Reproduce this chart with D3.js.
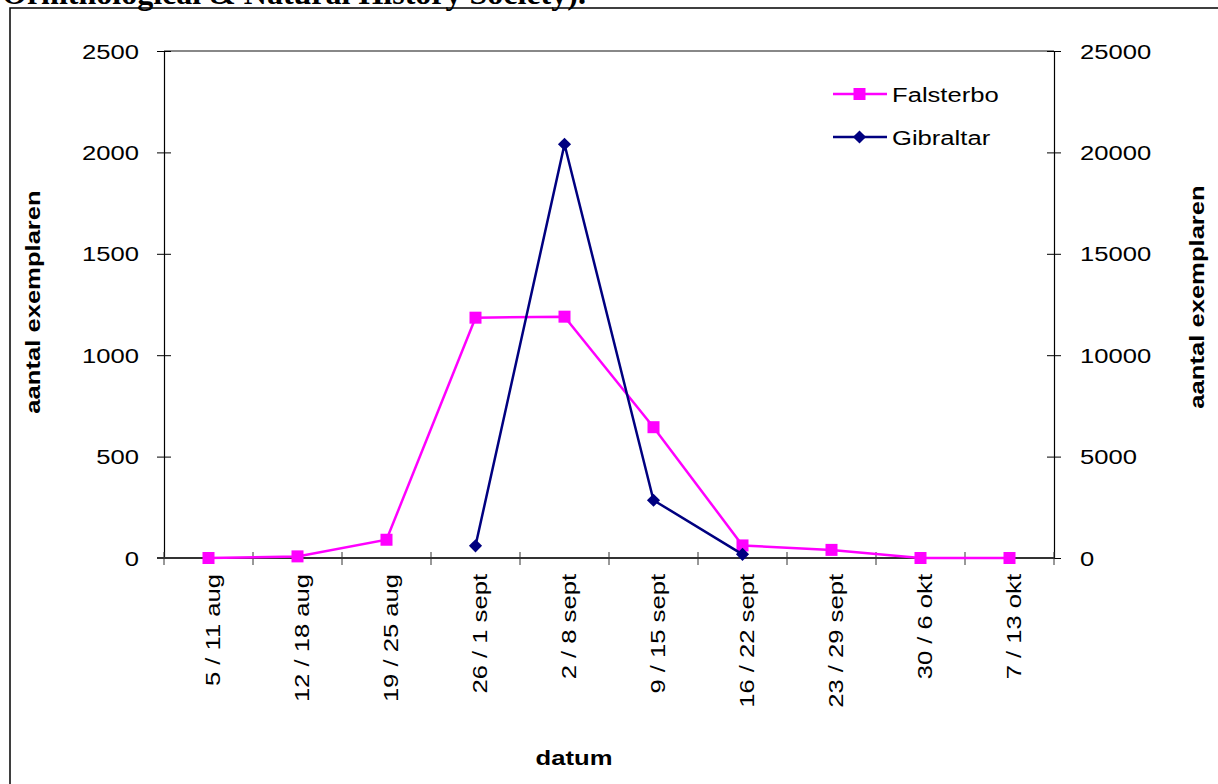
<!DOCTYPE html>
<html>
<head>
<meta charset="utf-8">
<script src="https://cdn.jsdelivr.net/npm/d3@7"></script>
<style>
body { margin: 0; background: #fff; overflow: hidden; }
text { font-family: "Liberation Sans", Arial, sans-serif; }
</style>
</head>
<body>
<svg id="chart" width="1218" height="784"></svg>
<script>
var categories = ["5 / 11 aug", "12 / 18 aug", "19 / 25 aug", "26 / 1 sept", "2 / 8 sept",
                  "9 / 15 sept", "16 / 22 sept", "23 / 29 sept", "30 / 6 okt", "7 / 13 okt"];
var falsterbo = [0, 8, 90, 1185, 1190, 645, 62, 40, 0, 0];
// gibraltar only counted for four weeks (right axis)
var gibraltar = [null, null, null, 600, 20400, 2850, 180, null, null, null];
var leftTicks = [0, 500, 1000, 1500, 2000, 2500];
var rightTicks = [0, 5000, 10000, 15000, 20000, 25000];

var svg = d3.select("#chart");
var SX = 1.22; // the original text is a bit wider than plain arial

// text helper: translate, rotate, stretch along the text direction
function label(px, py, rot, txt, anchor, size, bold) {
    return svg.append("text")
        .attr("transform", "translate(" + px + "," + py + ") rotate(" + rot + ") scale(" + SX + ",1)")
        .attr("text-anchor", anchor)
        .style("font-size", size + "px")
        .style("font-weight", bold ? "bold" : "normal")
        .text(txt);
}

// caption text cut by the top of the page
svg.append("text")
    .attr("x", 2).attr("y", 4)
    .style("font-family", "'Liberation Serif', 'Times New Roman', serif")
    .style("font-weight", "bold").style("font-size", "32px")
    .text("Ornithological & Natural History Society).");

// chart frame
svg.append("rect")
    .attr("x", 10).attr("y", 8).attr("width", 1230).attr("height", 800)
    .attr("fill", "none").attr("stroke", "#000").attr("stroke-width", 1.5);

var pLeft = 164, pRight = 1054, pTop = 51, pBottom = 558;

var x = d3.scaleBand().domain(categories).range([pLeft, pRight]);
var yL = d3.scaleLinear().domain([0, 2500]).range([pBottom, pTop]);
var yR = d3.scaleLinear().domain([0, 25000]).range([pBottom, pTop]);

// plot area top border
svg.append("line")
    .attr("x1", pLeft).attr("x2", pRight).attr("y1", pTop).attr("y2", pTop)
    .attr("stroke", "#888").attr("stroke-width", 2);

// left axis (ticks cross the line)
var gL = svg.append("g").attr("transform", "translate(" + pLeft + ",0)")
    .call(d3.axisLeft(yL).tickValues(leftTicks).tickSize(0).tickFormat(""));
gL.select(".domain").attr("stroke", "#000").attr("stroke-width", 1.2);
gL.selectAll(".tick").append("line")
    .attr("x1", -7).attr("x2", 7).attr("stroke", "#000");
leftTicks.forEach(function(t) {
    label(139, yL(t) + 7.5, 0, t, "end", 21, false);
});

// right axis
var gR = svg.append("g").attr("transform", "translate(" + pRight + ",0)")
    .call(d3.axisRight(yR).tickValues(rightTicks).tickSize(0).tickFormat(""));
gR.select(".domain").attr("stroke", "#000").attr("stroke-width", 1.2);
gR.selectAll(".tick").append("line")
    .attr("x1", -7).attr("x2", 7).attr("stroke", "#000");
rightTicks.forEach(function(t) {
    label(1080, yR(t) + 7.5, 0, t, "start", 21, false);
});

// x axis
svg.append("line")
    .attr("x1", pLeft - 7).attr("x2", pRight).attr("y1", pBottom).attr("y2", pBottom)
    .attr("stroke", "#333").attr("stroke-width", 2);
var bounds = categories.map(function(d) { return x(d); }).concat([pRight]);
svg.selectAll(".xtick").data(bounds).enter().append("line")
    .attr("class", "xtick")
    .attr("x1", function(d) { return d; }).attr("x2", function(d) { return d; })
    .attr("y1", pBottom - 6).attr("y2", pBottom + 7)
    .attr("stroke", "#333");

categories.forEach(function(c) {
    label(x(c) + x.bandwidth() / 2 + 11, pBottom + 16, -90, c, "end", 21, false);
});

// axis titles
label(40, 302, -90, "aantal exemplaren", "middle", 21, true);
label(1204, 297, -90, "aantal exemplaren", "middle", 21, true);
label(574, 765, 0, "datum", "middle", 21, true);

function cx(i) { return x(categories[i]) + x.bandwidth() / 2; }

// Falsterbo (left axis)
var fData = falsterbo.map(function(v, i) { return { i: i, v: v }; });
svg.append("path")
    .datum(fData)
    .attr("fill", "none").attr("stroke", "#ff00ff").attr("stroke-width", 2.5)
    .attr("d", d3.line().x(function(d) { return cx(d.i); }).y(function(d) { return yL(d.v); }));
svg.selectAll(".fm").data(fData).enter().append("rect")
    .attr("class", "fm")
    .attr("x", function(d) { return cx(d.i) - 6; })
    .attr("y", function(d) { return yL(d.v) - 6; })
    .attr("width", 12).attr("height", 12)
    .attr("fill", "#ff00ff");

// Gibraltar (right axis)
var gData = gibraltar.map(function(v, i) { return { i: i, v: v }; })
    .filter(function(d) { return d.v !== null; });
svg.append("path")
    .datum(gData)
    .attr("fill", "none").attr("stroke", "#000080").attr("stroke-width", 2.5)
    .attr("d", d3.line().x(function(d) { return cx(d.i); }).y(function(d) { return yR(d.v); }));
var diamond = d3.symbol().type(d3.symbolDiamond2).size(110);
svg.selectAll(".gm").data(gData).enter().append("path")
    .attr("class", "gm")
    .attr("transform", function(d) { return "translate(" + cx(d.i) + "," + yR(d.v) + ")"; })
    .attr("d", diamond)
    .attr("fill", "#000080");

// legend
var legend = [
    { name: "Falsterbo", color: "#ff00ff", shape: "square", y: 94 },
    { name: "Gibraltar", color: "#000080", shape: "diamond", y: 137 }
];
var lg = svg.selectAll(".lg").data(legend).enter().append("g").attr("class", "lg");
lg.append("line")
    .attr("x1", 833).attr("x2", 887)
    .attr("y1", function(d) { return d.y; }).attr("y2", function(d) { return d.y; })
    .attr("stroke", function(d) { return d.color; }).attr("stroke-width", 2.5);
lg.append("path")
    .attr("transform", function(d) { return "translate(859.5," + d.y + ")"; })
    .attr("d", function(d) {
        return d.shape === "square" ? "M-6,-6h12v12h-12z" : diamond();
    })
    .attr("fill", function(d) { return d.color; });
legend.forEach(function(d) {
    label(892, d.y + 7.5, 0, d.name, "start", 21, false);
});
</script>
</body>
</html>
